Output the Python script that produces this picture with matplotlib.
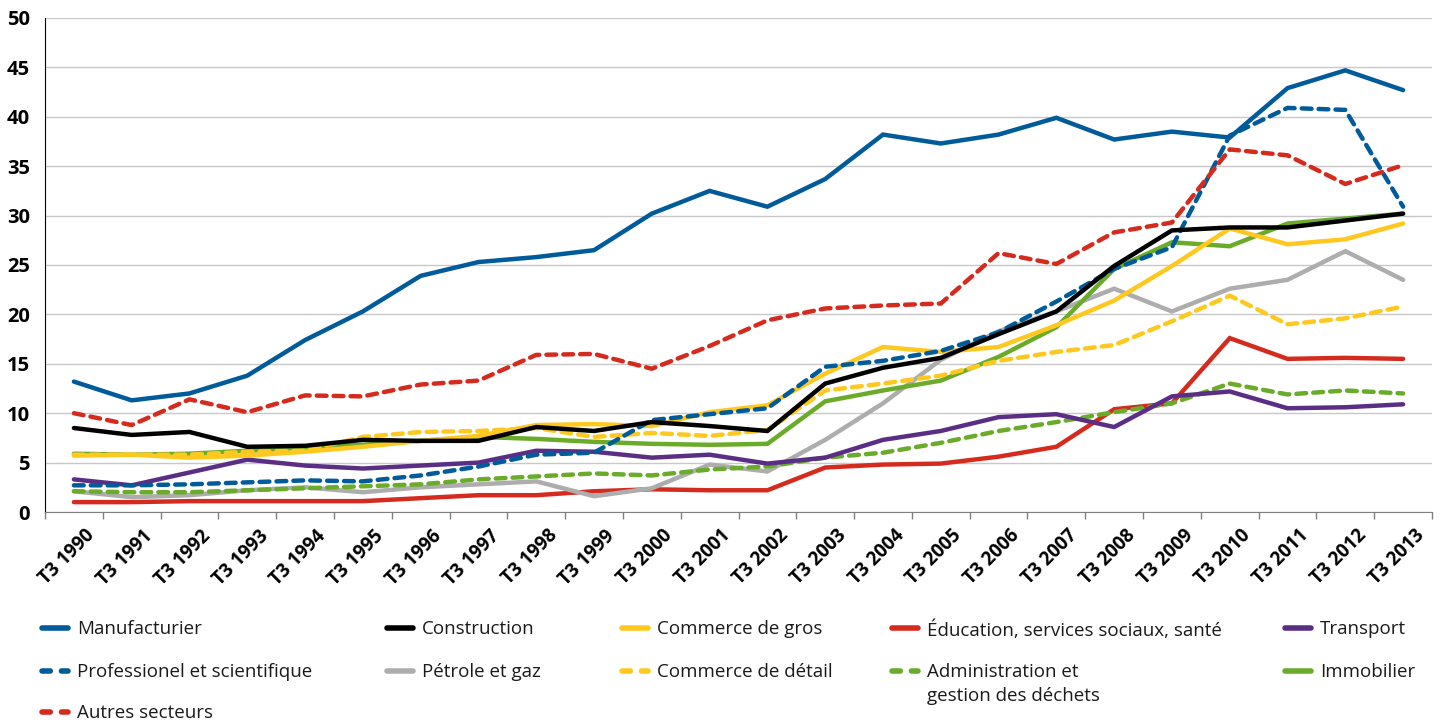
import numpy as np
import matplotlib
matplotlib.use("Agg")
import matplotlib.pyplot as plt
import matplotlib.transforms as mtransforms
from matplotlib.lines import Line2D

plt.rcParams["font.family"] = ["Open Sans", "DejaVu Sans"]

# --- data ---
periods = [f"T3 {y}" for y in range(1990, 2014)]

manufacturier = [13.2, 11.3, 12.0, 13.8, 17.4, 20.3, 23.9, 25.3, 25.8, 26.5, 30.2, 32.5,
                 30.9, 33.7, 38.2, 37.3, 38.2, 39.9, 37.7, 38.5, 37.9, 42.9, 44.7, 42.7]
construction = [8.5, 7.8, 8.1, 6.6, 6.7, 7.3, 7.2, 7.2, 8.6, 8.2, 9.1, 8.7,
                8.2, 13.0, 14.6, 15.6, 18.0, 20.3, 24.9, 28.5, 28.8, 28.8, 29.5, 30.2]
commerce_gros = [5.7, 5.8, 5.5, 5.7, 6.1, 6.6, 7.2, 7.7, 8.8, 8.9, 8.7, 10.1,
                 10.8, 14.0, 16.7, 16.2, 16.7, 18.9, 21.4, 24.9, 28.7, 27.1, 27.6, 29.2]
education = [1.0, 1.0, 1.1, 1.1, 1.1, 1.1, 1.4, 1.7, 1.7, 2.1, 2.3, 2.2,
             2.2, 4.5, 4.8, 4.9, 5.6, 6.6, 10.4, 11.0, 17.6, 15.5, 15.6, 15.5]
transport = [3.3, 2.7, 4.0, 5.3, 4.7, 4.4, 4.7, 5.0, 6.2, 6.1, 5.5, 5.8,
             4.9, 5.5, 7.3, 8.2, 9.6, 9.9, 8.6, 11.7, 12.2, 10.5, 10.6, 10.9]
professionel = [2.7, 2.7, 2.8, 3.0, 3.2, 3.1, 3.7, 4.6, 5.8, 6.0, 9.3, 9.9,
                10.5, 14.7, 15.3, 16.3, 18.2, 21.3, 24.6, 26.8, 38.1, 40.9, 40.7, 30.9]
petrole = [2.1, 1.5, 1.7, 2.2, 2.5, 2.0, 2.5, 2.8, 3.1, 1.6, 2.4, 4.8,
           4.1, 7.3, 11.0, 15.4, 18.3, 20.3, 22.6, 20.3, 22.6, 23.5, 26.4, 23.5]
commerce_detail = [5.8, 5.8, 5.8, 6.1, 6.2, 7.6, 8.1, 8.2, 8.5, 7.6, 8.0, 7.7,
                   8.3, 12.3, 13.0, 13.8, 15.3, 16.2, 16.9, 19.3, 21.9, 19.0, 19.6, 20.8]
administration = [2.1, 2.0, 2.0, 2.2, 2.4, 2.6, 2.8, 3.3, 3.6, 3.9, 3.7, 4.3,
                  4.6, 5.5, 6.0, 7.0, 8.2, 9.1, 10.1, 11.0, 13.0, 11.9, 12.3, 12.0]
immobilier = [5.9, 5.8, 5.9, 6.2, 6.5, 6.8, 7.2, 7.6, 7.4, 7.1, 6.9, 6.8,
              6.9, 11.2, 12.3, 13.3, 15.7, 18.7, 24.6, 27.3, 26.9, 29.2, 29.7, 30.2]
autres = [10.0, 8.8, 11.4, 10.1, 11.8, 11.7, 12.9, 13.3, 15.9, 16.0, 14.5, 16.8,
          19.4, 20.6, 20.9, 21.1, 26.2, 25.1, 28.3, 29.3, 36.7, 36.1, 33.2, 35.1]

BLUE = "#005b9a"
RED = "#d52b1e"
YELLOW = "#ffc81e"
GREEN = "#6aab2a"

# (label, values, color, dashed, legend column, legend row) -- drawing order bottom to top
series = [
    ("Éducation, services sociaux, santé", education, RED, False, 3, 0),
    ("Pétrole et gaz", petrole, "#adadad", False, 1, 1),
    ("Administration et\ngestion des déchets", administration, GREEN, True, 3, 1),
    ("Transport", transport, "#5b2e86", False, 4, 0),
    ("Immobilier", immobilier, GREEN, False, 4, 1),
    ("Commerce de détail", commerce_detail, YELLOW, True, 2, 1),
    ("Commerce de gros", commerce_gros, YELLOW, False, 2, 0),
    ("Professionel et scientifique", professionel, BLUE, True, 0, 1),
    ("Construction", construction, "black", False, 1, 0),
    ("Autres secteurs", autres, RED, True, 0, 2),
    ("Manufacturier", manufacturier, BLUE, False, 0, 0),
]

W, H = 1439, 724
fig = plt.figure(figsize=(W / 100, H / 100), dpi=100)
ax = fig.add_axes([45 / W, 1 - 512 / H, (1432 - 45) / W, (512 - 18) / H])

x = np.arange(len(periods))
for label, vals, color, dashed, _, _ in series:
    ax.plot(x, vals, color=color, linewidth=3.2,
            linestyle=(0, (2.2, 1.6)) if dashed else "-",
            dash_capstyle="round", solid_capstyle="round", solid_joinstyle="miter")

ax.set_ylim(0, 50)
ax.set_yticks(np.arange(0, 51, 5))
ax.set_xlim(-0.5, len(periods) - 0.5)
ax.set_xticks(x)
ax.set_xticklabels(periods, rotation=45, ha="right", va="center",
                   rotation_mode="anchor", fontsize=13.5, fontweight="bold")
ax.set_xticks(np.arange(-0.5, len(periods), 1), minor=True)
ax.tick_params(axis="x", which="major", length=0, pad=15)
ax.tick_params(axis="x", which="minor", length=5, width=1, color="#7f7f7f", direction="out")
ax.tick_params(axis="y", length=0, pad=11, labelsize=14.5)
for t in ax.get_yticklabels():
    t.set_fontweight("bold")
shift = mtransforms.ScaledTranslation(18 / 100, 0, fig.dpi_scale_trans)
for t in ax.get_xticklabels():
    t.set_transform(t.get_transform() + shift)

ax.grid(axis="y", color="#c8c8c8", linewidth=1)
ax.set_axisbelow(True)
for s in ["top", "right"]:
    ax.spines[s].set_visible(False)
ax.spines["left"].set_color("black")
ax.spines["bottom"].set_color("#7f7f7f")

# legend laid out by hand below the plot
col_x = [40, 385, 620, 890, 1283]
row_y = [628, 671, 712]
for label, vals, color, dashed, col, row in series:
    x0 = col_x[col] / W
    y0 = 1 - row_y[row] / H
    fig.add_artist(Line2D([x0 + 2 / W, x0 + 28 / W], [y0, y0], transform=fig.transFigure,
                          color=color, linewidth=4,
                          linestyle=(0, (1.5, 2.0)) if dashed else "-",
                          dash_capstyle="round", solid_capstyle="round"))
    fig.text(x0 + 37 / W, y0 + 8 / H, label, fontsize=13.5, va="top", ha="left",
             linespacing=1.45, color="#1a1a1a")

fig.savefig("out.png", dpi=100)
